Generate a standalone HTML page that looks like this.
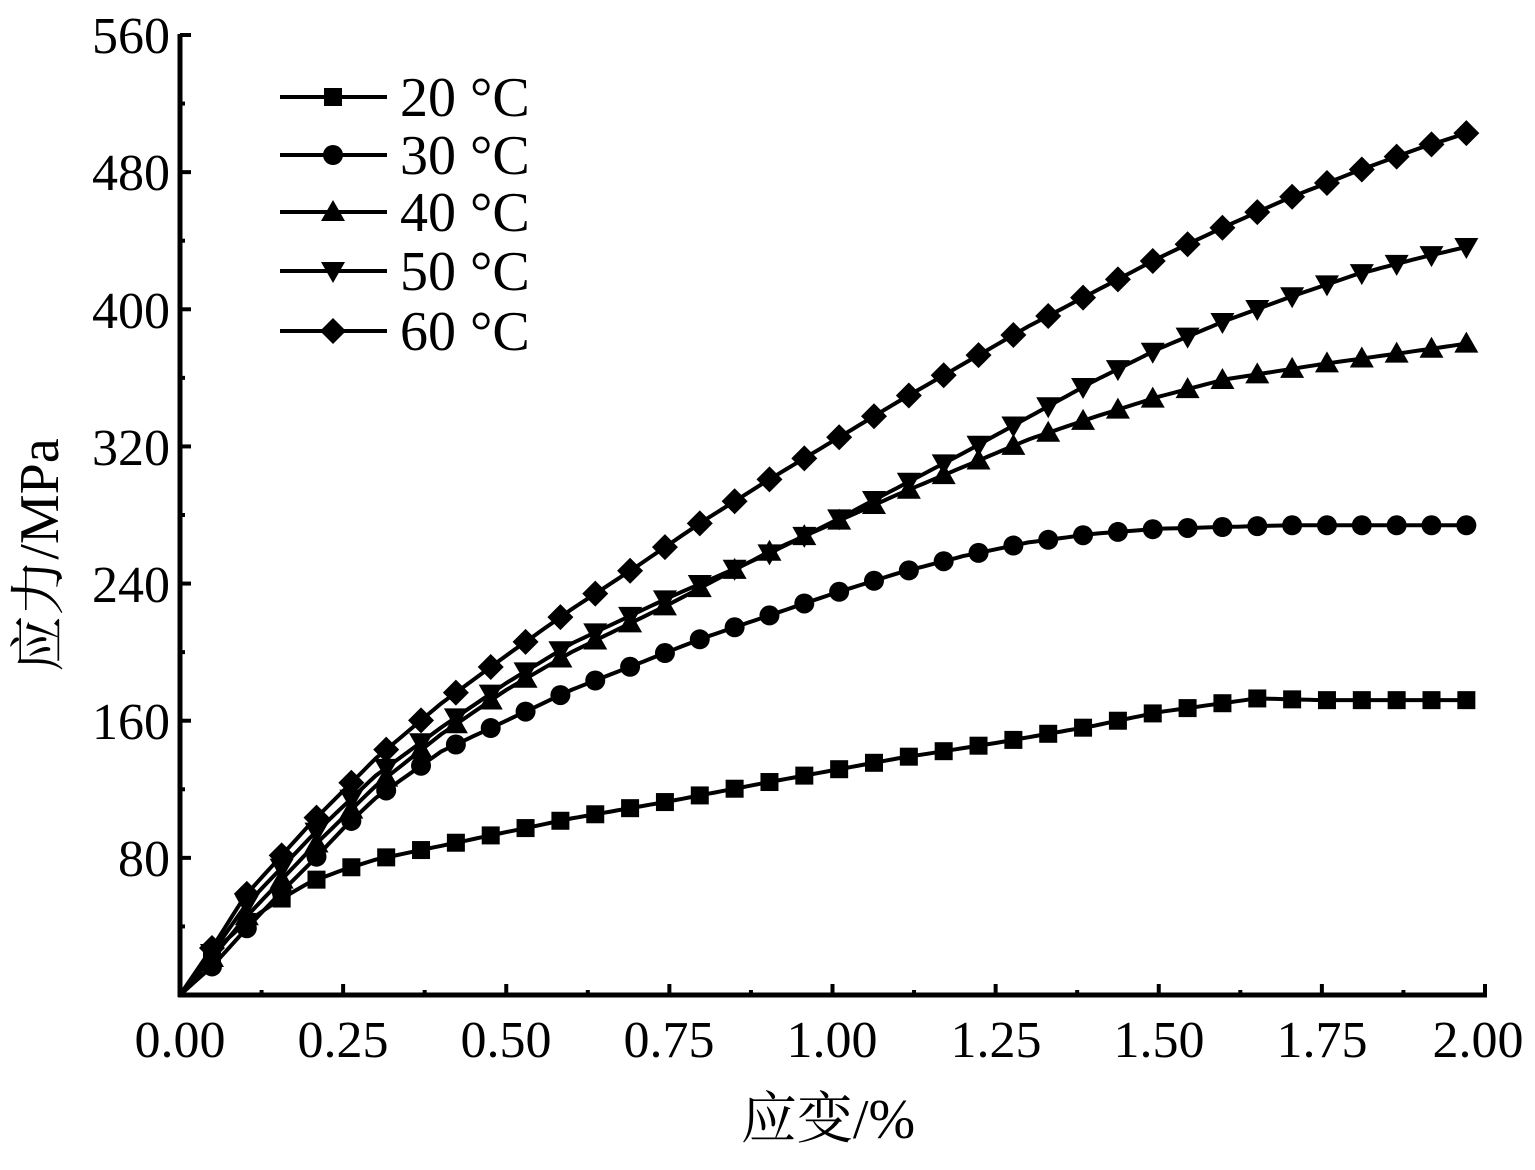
<!DOCTYPE html>
<html><head><meta charset="utf-8"><style>
body{margin:0;background:#fff}
text{font-family:"Liberation Serif","Noto Serif CJK SC",serif;fill:#000}
</style></head><body>
<svg id="s" width="1535" height="1165" xmlns="http://www.w3.org/2000/svg">
<g id="g"></g>
<g font-size="52">
<text x="180" y="1057" text-anchor="middle">0.00</text>
<text x="343" y="1057" text-anchor="middle">0.25</text>
<text x="506" y="1057" text-anchor="middle">0.50</text>
<text x="669" y="1057" text-anchor="middle">0.75</text>
<text x="832" y="1057" text-anchor="middle">1.00</text>
<text x="996" y="1057" text-anchor="middle">1.25</text>
<text x="1159" y="1057" text-anchor="middle">1.50</text>
<text x="1322" y="1057" text-anchor="middle">1.75</text>
<text x="1478" y="1057" text-anchor="middle">2.00</text>
<text x="170" y="53" text-anchor="end">560</text>
<text x="170" y="190" text-anchor="end">480</text>
<text x="170" y="328" text-anchor="end">400</text>
<text x="170" y="465" text-anchor="end">320</text>
<text x="170" y="602" text-anchor="end">240</text>
<text x="170" y="739" text-anchor="end">160</text>
<text x="170" y="876" text-anchor="end">80</text>
</g>
<g font-size="56">
<text x="828" y="1138" text-anchor="middle">应变/%</text>
<text transform="translate(58,555) rotate(-90)" text-anchor="middle">应力/MPa</text>
<text x="400" y="116">20 °C</text>
<text x="400" y="174">30 °C</text>
<text x="400" y="231">40 °C</text>
<text x="400" y="290">50 °C</text>
<text x="400" y="350">60 °C</text>
</g>
</svg>
<script>
const g=document.getElementById('g');const NS='http://www.w3.org/2000/svg';
function el(t,a){const e=document.createElementNS(NS,t);for(const k in a)e.setAttribute(k,a[k]);g.appendChild(e);return e;}
const X=s=>180+s*652.5, Y=v=>995-v*1.71428;
el('line',{x1:180,y1:34,x2:180,y2:997,stroke:'#000','stroke-width':5});
el('line',{x1:178,y1:995,x2:1487,y2:995,stroke:'#000','stroke-width':5});
for(let i=0;i<=14;i++){const v=i*40;const y=Y(v);el('line',{x1:180,y1:y,x2:i%2?185:191,y2:y,stroke:'#000','stroke-width':4});}
for(let i=0;i<=16;i++){const x=X(i*0.125);el('line',{x1:x,y1:995,x2:x,y2:i%2?990:984,stroke:'#000','stroke-width':4});}
const D={
sq:[[0,0],[0.05,25],[0.1,42],[0.15,55],[0.2,66],[0.25,73],[0.3,79],[0.4,87],[0.5,95],[0.6,103],[0.75,113],[0.9,124],[1.0,131],[1.1,138],[1.25,147],[1.4,157],[1.5,165],[1.65,173],[1.75,172],[1.99,172]],
ci:[[0,0],[0.05,17],[0.1,38],[0.15,58],[0.2,77],[0.25,97],[0.3,115],[0.4,142],[0.5,160],[0.6,178],[0.7,193],[0.8,208],[0.9,221],[1.0,234],[1.1,246],[1.2,256],[1.3,264],[1.4,269],[1.5,272],[1.7,274],[1.99,274]],
up:[[0,0],[0.05,22],[0.1,45],[0.2,85],[0.3,122],[0.4,152],[0.5,178],[0.6,200],[0.75,228],[0.9,258],[1.0,275],[1.1,292],[1.2,308],[1.3,324],[1.4,337],[1.5,349],[1.6,359],[1.75,368],[1.9,376],[1.99,381]],
dn:[[0,0],[0.05,25],[0.1,52],[0.2,92],[0.3,128],[0.4,156],[0.5,182],[0.6,205],[0.75,232],[0.9,257],[1.0,276],[1.1,296],[1.2,316],[1.3,337],[1.4,358],[1.5,377],[1.6,393],[1.7,407],[1.8,420],[1.9,430],[1.99,438]],
di:[[0,0],[0.05,28],[0.1,58],[0.2,100],[0.3,138],[0.4,170],[0.5,198],[0.6,225],[0.7,250],[0.8,276],[0.9,300],[1.0,323],[1.1,346],[1.2,368],[1.3,390],[1.4,410],[1.5,430],[1.6,448],[1.7,465],[1.8,480],[1.9,494],[1.99,505]]};
function interp(p,s){for(let i=1;i<p.length;i++){if(s<=p[i][0]){const a=p[i-1],b=p[i];return a[1]+(b[1]-a[1])*(s-a[0])/(b[0]-a[0]);}}return p[p.length-1][1];}
function mk(t,x,y){
 if(t=='sq')el('rect',{x:x-9,y:y-9,width:18,height:18});
 else if(t=='ci')el('circle',{cx:x,cy:y,r:10});
 else if(t=='up')el('polygon',{points:`${x},${y-12} ${x-12},${y+9} ${x+12},${y+9}`});
 else if(t=='dn')el('polygon',{points:`${x},${y+12} ${x-12},${y-9} ${x+12},${y-9}`});
 else el('polygon',{points:`${x},${y-13} ${x+13},${y} ${x},${y+13} ${x-13},${y}`});
}
for(const t in D){const p=D[t];let d='';for(let s=0;s<=1.99;s+=0.01){d+=(s?'L':'M')+X(s).toFixed(1)+','+Y(interp(p,s)).toFixed(1);}
 el('path',{d:d,fill:'none',stroke:'#000','stroke-width':4});
 for(let k=0;k<37;k++){const s=0.049+k*0.0534;mk(t,X(s),Y(interp(p,s)));}
}
const ly={sq:97,ci:155,up:212,dn:271,di:331};
for(const t in ly){el('line',{x1:280,y1:ly[t],x2:387,y2:ly[t],stroke:'#000','stroke-width':4});mk(t,333,ly[t]);}
</script>
</body></html>
